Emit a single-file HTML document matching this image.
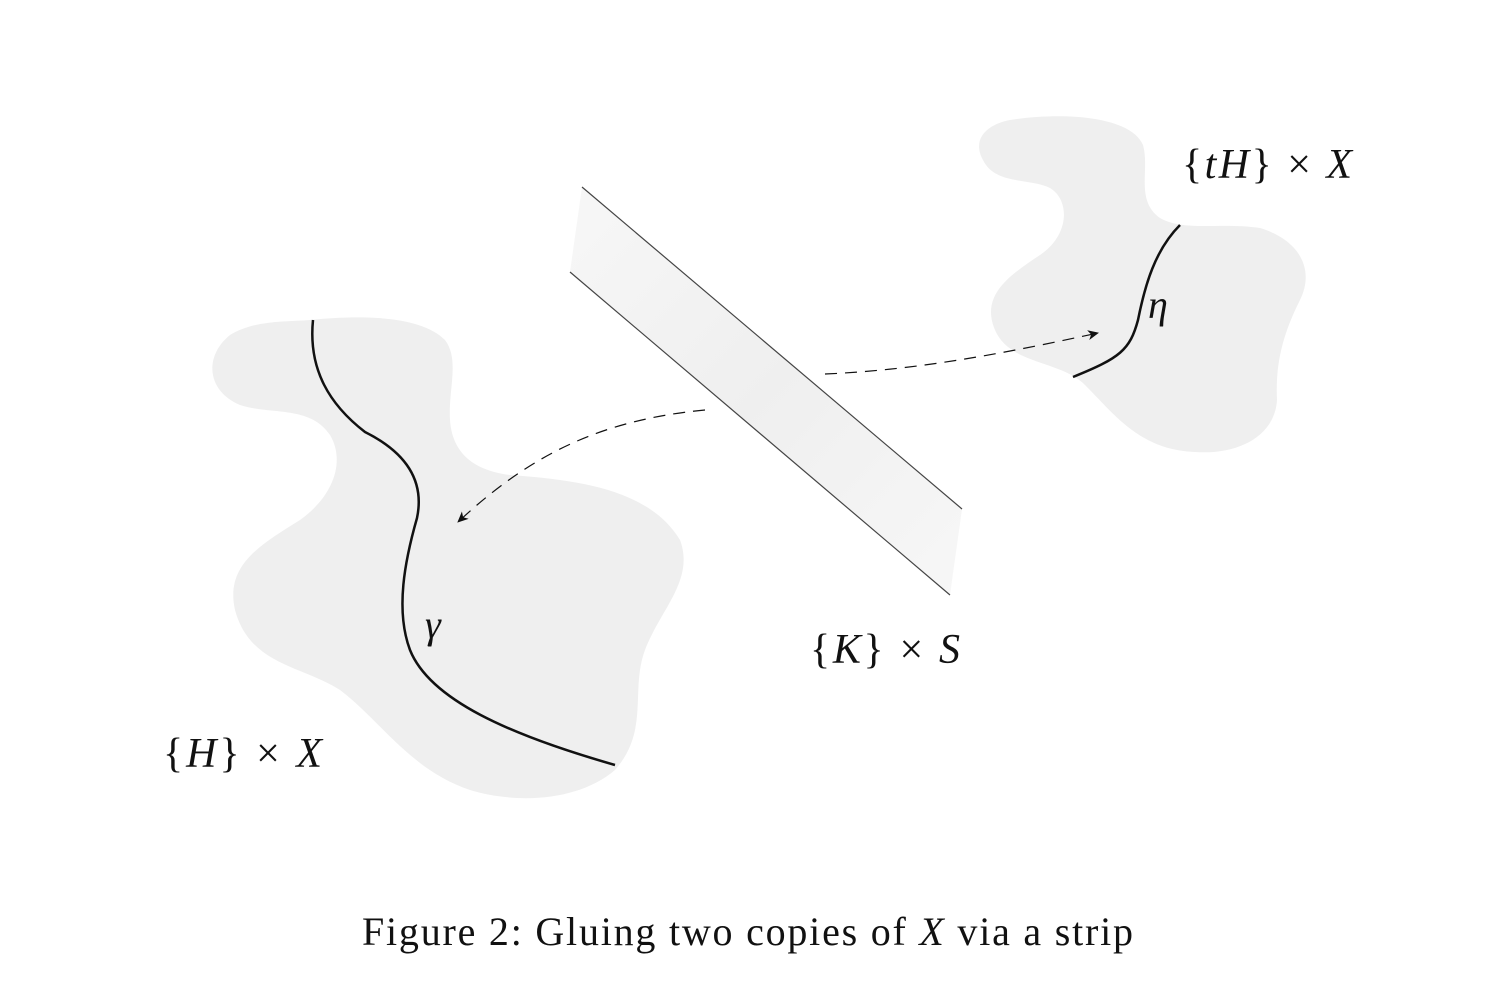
<!DOCTYPE html>
<html><head><meta charset="utf-8"><style>
html,body{margin:0;padding:0;background:#fff;}
svg{display:block}
text{font-family:"Liberation Serif",serif;fill:#111;}
</style></head><body>
<svg width="1510" height="990" viewBox="0 0 1510 990" xmlns="http://www.w3.org/2000/svg">
<defs>
<linearGradient id="sg" x1="0" y1="0" x2="1" y2="1">
<stop offset="0" stop-color="#f7f7f7"/><stop offset="0.5" stop-color="#efefef"/><stop offset="1" stop-color="#f7f7f7"/>
</linearGradient>
<marker id="ah" markerWidth="12" markerHeight="10" refX="10" refY="5" orient="auto" markerUnits="userSpaceOnUse">
<path d="M0,0 L11,5 L0,10 L3,5 Z" fill="#111"/>
</marker>
</defs>
<path fill="#efefef" d="M310,320 C360,315 420,315 445,340 C460,360 448,390 450,420 C452,450 470,470 510,475 C580,480 650,490 680,540 C695,580 660,610 645,650 C630,690 650,730 615,770 C580,800 520,805 470,790 C410,770 380,720 340,690 C300,665 250,665 235,610 C225,565 260,545 300,520 C335,495 345,460 330,435 C310,405 270,415 240,405 C205,390 205,355 230,335 C255,320 285,322 310,320 Z"/>
<path fill="#efefef" d="M1010,120 C1060,112 1130,115 1143,145 C1150,170 1135,200 1160,218 C1185,232 1220,222 1260,228 C1300,240 1315,270 1300,300 C1285,330 1275,360 1277,400 C1275,435 1240,455 1195,452 C1140,450 1115,415 1085,385 C1060,360 1010,365 995,330 C980,295 1010,275 1040,255 C1070,235 1070,200 1050,188 C1030,178 995,185 983,160 C972,140 985,125 1010,120 Z"/>
<polygon points="582,187 962,509 950,595 570,272" fill="url(#sg)"/>
<line x1="582" y1="187" x2="962" y2="509" stroke="#444" stroke-width="1.2"/>
<line x1="570" y1="272" x2="950" y2="595" stroke="#444" stroke-width="1.2"/>
<path d="M313,320 C308,370 330,405 365,432 C405,452 425,480 417,518 C405,560 395,610 410,650 C430,700 510,735 615,765" fill="none" stroke="#111" stroke-width="2.5"/>
<path d="M1180,225 C1155,250 1145,285 1138,320 C1130,350 1120,358 1073,377" fill="none" stroke="#111" stroke-width="2.5"/>
<path d="M825,374 C920,370 1010,352 1098,333" fill="none" stroke="#111" stroke-width="1.2" stroke-dasharray="12,8" marker-end="url(#ah)"/>
<path d="M705,410 C600,420 530,455 458,522" fill="none" stroke="#111" stroke-width="1.2" stroke-dasharray="12,8" marker-end="url(#ah)"/>
<text x="1182" y="178" font-size="42" textLength="170">{<tspan font-style="italic">tH</tspan>} × <tspan font-style="italic">X</tspan></text>
<text x="1148" y="318" font-size="40" font-style="italic">η</text>
<text x="425" y="638" font-size="40" font-style="italic">γ</text>
<text x="810" y="663" font-size="42" textLength="150">{<tspan font-style="italic">K</tspan>} × <tspan font-style="italic">S</tspan></text>
<text x="163" y="767" font-size="42" textLength="159">{<tspan font-style="italic">H</tspan>} × <tspan font-style="italic">X</tspan></text>
<text x="362" y="945" font-size="40" textLength="771">Figure 2: Gluing two copies of <tspan font-style="italic">X</tspan> via a strip</text>
</svg>
</body></html>
